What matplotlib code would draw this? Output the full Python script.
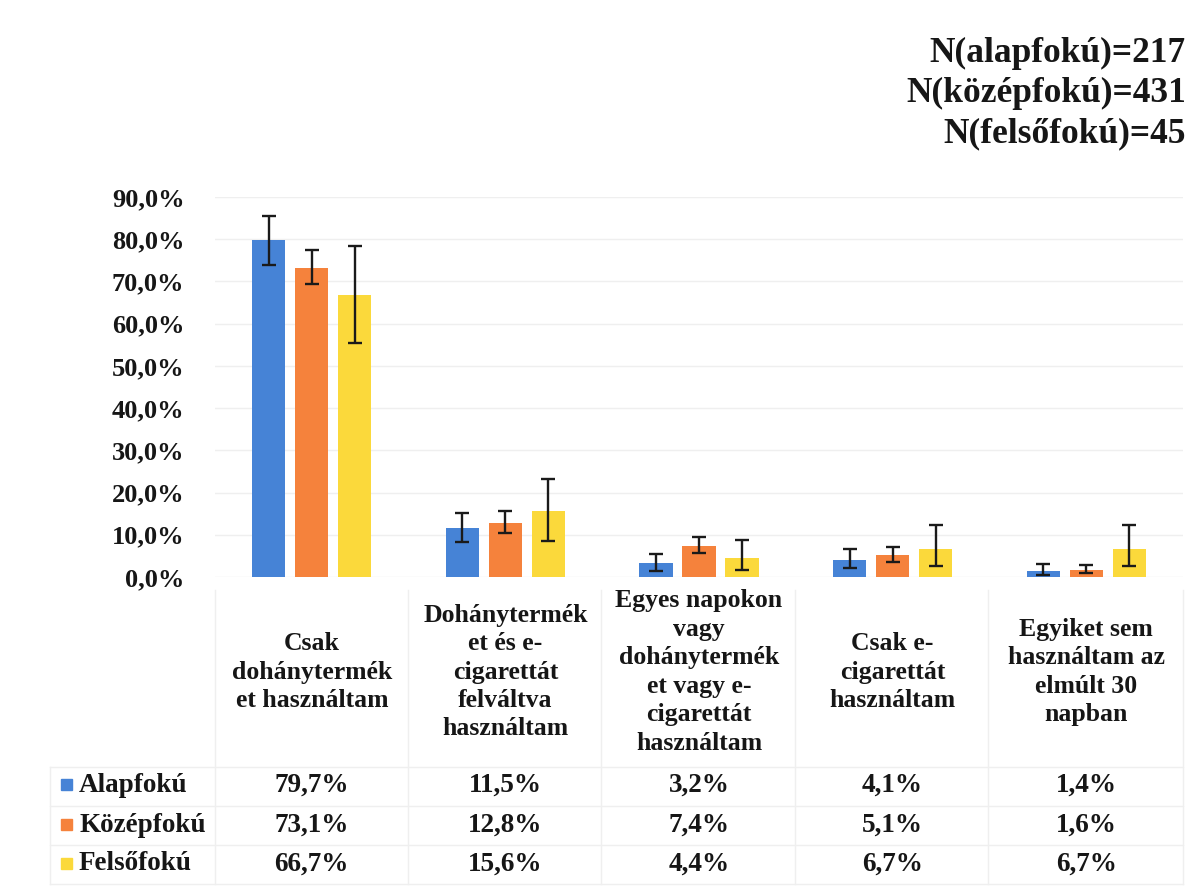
import matplotlib
matplotlib.use("Agg")
import matplotlib.pyplot as plt
from matplotlib.lines import Line2D
from matplotlib.patches import Rectangle
from matplotlib.ticker import FuncFormatter, MultipleLocator
import matplotlib.transforms as mtransforms
import numpy as np

# ---- data -------------------------------------------------------------
categories = [
    "Csak\ndohánytermék\net használtam",
    "Dohánytermék\net és e-\ncigarettát\nfelváltva\nhasználtam",
    "Egyes napokon\nvagy\ndohánytermék\net vagy e-\ncigarettát\nhasználtam",
    "Csak e-\ncigarettát\nhasználtam",
    "Egyiket sem\nhasználtam az\nelmúlt 30\nnapban",
]
series_names = ["Alapfokú", "Középfokú", "Felsőfokú"]

alapfoku = [79.7, 11.5, 3.2, 4.1, 1.4]
kozepfoku = [73.1, 12.8, 7.4, 5.1, 1.6]
felsofoku = [66.7, 15.6, 4.4, 6.7, 6.7]

# confidence interval bounds (%)
alapfoku_low = [73.9, 8.4, 1.4, 2.1, 0.5]
alapfoku_high = [85.5, 15.2, 5.4, 6.6, 3.0]
kozepfoku_low = [69.4, 10.4, 5.8, 3.6, 0.9]
kozepfoku_high = [77.5, 15.6, 9.5, 7.0, 2.8]
felsofoku_low = [55.5, 8.6, 1.7, 2.6, 2.6]
felsofoku_high = [78.3, 23.2, 8.7, 12.3, 12.3]

sample_sizes = ["N(alapfokú)=217", "N(középfokú)=431", "N(felsőfokú)=45"]

colors = ["#4683d6", "#f5823c", "#fbd93b"]
# -----------------------------------------------------------------------

W, H = 1201, 889
fig = plt.figure(figsize=(W / 100, H / 100), dpi=100)
fig.patch.set_facecolor("white")

FONT = "Liberation Serif"
TXT = "#161616"


def fx(px):
    return px / W


def fy(py):
    return 1 - py / H


ax_left, ax_right, ax_top, ax_bottom = 215, 1183, 197, 577
ax = fig.add_axes([fx(ax_left), fy(ax_bottom), fx(ax_right - ax_left),
                   (ax_bottom - ax_top) / H])

values = [alapfoku, kozepfoku, felsofoku]
lows = [alapfoku_low, kozepfoku_low, felsofoku_low]
highs = [alapfoku_high, kozepfoku_high, felsofoku_high]

x = np.arange(len(categories))
offsets = [-0.222, 0.0, 0.222]
bar_w = 0.172
for vals, lo, hi, off, col in zip(values, lows, highs, offsets, colors):
    vals = np.array(vals)
    yerr = np.vstack([vals - np.array(lo), np.array(hi) - vals])
    ax.bar(x + off, vals, width=bar_w, color=col, zorder=2)
    ax.errorbar(x + off, vals, yerr=yerr, fmt="none", ecolor="#1a1a1a",
                elinewidth=1.7, capsize=5, capthick=1.7, zorder=3)

ax.set_xlim(-0.5, len(categories) - 0.5)
ax.set_ylim(0, 90)
ax.yaxis.set_major_locator(MultipleLocator(10))
ax.yaxis.set_major_formatter(FuncFormatter(lambda v, p: f"{v:.1f}%".replace(".", ",")))
ax.grid(axis="y", color="#efefef", linewidth=1.0, zorder=0)
ax.set_xticks([])
for s in ax.spines.values():
    s.set_visible(False)
ax.tick_params(axis="y", length=0, pad=22)
for lab in ax.get_yticklabels():
    lab.set_fontfamily(FONT)
    lab.set_fontweight("bold")
    lab.set_fontsize(19)
    lab.set_color(TXT)

# sample-size note
for i, t in enumerate(sample_sizes):
    fig.text(fx(1186), fy(53 + i * 40.5), t, ha="right", va="center",
             fontfamily=FONT, fontweight="bold", fontsize=25.5, color=TXT)

# data table below the chart
trans = mtransforms.blended_transform_factory(ax.transData, fig.transFigure)
for i, cat in enumerate(categories):
    ax.text(i, fy(672), cat, transform=trans, ha="center", va="center",
            fontfamily=FONT, fontweight="bold", fontsize=18.5, color=TXT,
            linespacing=1.3, clip_on=False)

row_y = [785, 825, 864]
for r, (name, vals, col) in enumerate(zip(series_names, values, colors)):
    fig.patches.append(Rectangle((fx(61), fy(row_y[r] + 5)), fx(11), 11 / H,
                                 transform=fig.transFigure, color=col))
    fig.text(fx(79), fy(row_y[r]), name, ha="left", va="center",
             fontfamily=FONT, fontweight="bold", fontsize=19.5, color=TXT)
    for i, v in enumerate(vals):
        ax.text(i, fy(row_y[r]), f"{v:.1f}%".replace(".", ","), transform=trans,
                ha="center", va="center", fontfamily=FONT, fontweight="bold",
                fontsize=19.5, color=TXT, clip_on=False)

grid_col = "#efefef"
for yy in [767, 806, 845, 884]:
    fig.add_artist(Line2D([fx(50), fx(1183)], [fy(yy), fy(yy)],
                          transform=fig.transFigure, color=grid_col, lw=1.0))
col_edges = [215, 408, 601, 795, 988, 1183]
for xx in col_edges:
    fig.add_artist(Line2D([fx(xx), fx(xx)], [fy(590), fy(884)],
                          transform=fig.transFigure, color=grid_col, lw=1.0))
fig.add_artist(Line2D([fx(50), fx(50)], [fy(767), fy(884)],
                      transform=fig.transFigure, color=grid_col, lw=1.0))

fig.savefig("out.png", dpi=100, facecolor="white")
